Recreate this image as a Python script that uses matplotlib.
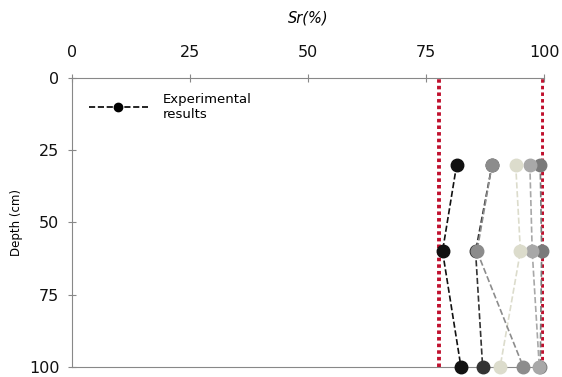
import matplotlib
matplotlib.use('Agg')
import matplotlib.pyplot as plt

# depth of the measurements (cm)
depth = [30, 60, 100]

# degree of saturation Sr (%) for each test series
sr_black = [81.5, 78.5, 82.4]
sr_dark = [89.0, 85.5, 87.0]
sr_mid = [89.0, 85.8, 95.6]
sr_light = [94.0, 95.0, 90.7]
sr_grey = [97.0, 97.5, 99.0]
sr_grey2 = [99.2, 99.5, 99.2]

series = [sr_grey2, sr_grey, sr_light, sr_dark, sr_mid, sr_black]
colours = ['#7a7a7a', '#a8a8a8', '#dcdccc', '#333333', '#8c8c8c', '#111111']

# limits shown as red dotted lines
sr_limits = [77.8, 99.7]

x_ticks = [0, 25, 50, 75, 100]
y_ticks = [0, 25, 50, 75, 100]

fig = plt.figure(figsize=(5.62, 3.77), dpi=100)
ax = fig.add_axes([0.128, 0.027, 0.84, 0.766])

for lim in sr_limits:
    ax.axvline(lim, color='#c0102e', linestyle=(0, (0.9, 0.8)), linewidth=2.8, zorder=1)

for vals, c in zip(series, colours):
    ax.plot(vals, depth, linestyle='--', color=c, linewidth=1.2,
            marker='o', markersize=9, markeredgecolor=c, zorder=3, clip_on=False)

# legend entry only for the black series
ax.plot([], [], linestyle='--', color='black', linewidth=1.2, marker='o',
        markersize=6, label='Experimental\nresults')
ax.legend(loc='upper left', frameon=False, fontsize=9.5, numpoints=1,
          handlelength=4.5, handletextpad=1.1, bbox_to_anchor=(0.01, 0.99))

ax.set_xlim(0, 100)
ax.set_ylim(100, 0)
ax.set_xticks(x_ticks)
ax.set_yticks(y_ticks)
ax.xaxis.tick_top()
ax.xaxis.set_label_position('top')
ax.set_xlabel('Sr(%)', style='italic', fontsize=10.5, labelpad=16)
ax.set_ylabel('Depth (cm)', fontsize=8.5, labelpad=4)
ax.tick_params(axis='both', direction='inout', length=6, color='#888888',
               labelsize=11.5, pad=6, labelcolor='#111111')
ax.tick_params(axis='x', pad=10)

ax.spines['right'].set_visible(False)
for side in ['left', 'top', 'bottom']:
    ax.spines[side].set_color('#888888')

fig.savefig('out.png', dpi=100)
